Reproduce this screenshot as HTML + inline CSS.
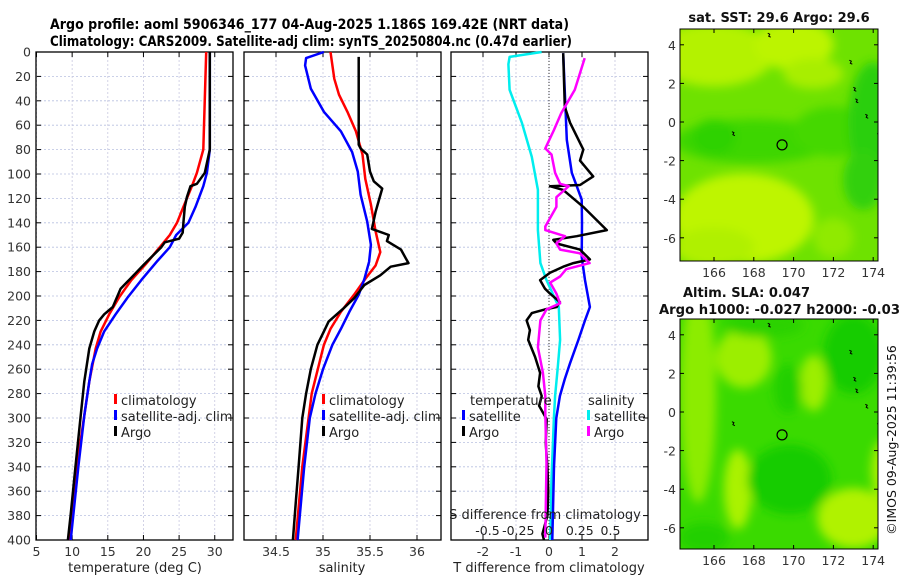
<!DOCTYPE html>
<html><head><meta charset="utf-8"><style>
html,body{margin:0;padding:0;background:#fff;}
svg{display:block;font-family:"DejaVu Sans","Liberation Sans",sans-serif;}
</style></head><body>
<svg id="fig" width="900" height="580" viewBox="0 0 900 580" xmlns="http://www.w3.org/2000/svg">
<defs>
<filter id="blur" x="-20%" y="-20%" width="140%" height="140%"><feGaussianBlur stdDeviation="5"/></filter>
<clipPath id="clipA"><rect x="680" y="29" width="198" height="232"/></clipPath>
<clipPath id="clipB"><rect x="680" y="319" width="198" height="230"/></clipPath>
</defs>
<text x="50" y="29" font-size="14.5" font-weight="bold" textLength="519" lengthAdjust="spacingAndGlyphs">Argo profile: aoml 5906346_177 04-Aug-2025 1.186S 169.42E (NRT data)</text>
<text x="50" y="46" font-size="14.5" font-weight="bold" textLength="522" lengthAdjust="spacingAndGlyphs">Climatology: CARS2009. Satellite-adj clim: synTS_20250804.nc (0.47d earlier)</text>
<g id="plots"></g>
<g id="maps"></g>
</svg>
<script>
// ---- depth levels & profiles ----
const tempDepth = [0,80,99,108,110,119,127,140,148,153,156,160,174,185,194,209,215,220,229,243,270,298,338,379,400];
const tempArgo  = [29.3,29.3,28.6,27.5,26.6,26.1,25.8,25.6,25.5,25.0,23.0,22.5,20.1,18.3,16.8,15.7,14.5,13.8,13.1,12.4,11.7,11.2,10.5,9.8,9.4];
const climDepth = [0,80,99,110,127,140,150,160,174,187,201,215,229,243,270,298,338,400];
const tempClim  = [28.8,28.4,27.5,26.8,25.6,24.7,23.7,22.3,20.3,18.3,16.6,15.2,14.0,13.3,12.4,11.7,10.7,9.5];
const satDepth  = [0,80,99,110,127,140,150,160,171,187,201,215,229,243,256,270,298,338,400];
const tempSat   = [29.3,29.3,28.9,28.4,27.3,26.3,24.6,23.7,22.0,19.7,17.8,16.1,14.5,13.5,12.8,12.4,11.7,10.9,9.8];

const salArgoDepth = [4,76,79,84,98,106,112,120,131,145,150,155,162,169,173,176,183,191,202,210,221,229,240,260,280,300,340,370,400];
const salArgo = [35.38,35.38,35.40,35.47,35.50,35.54,35.63,35.60,35.56,35.52,35.70,35.68,35.83,35.88,35.91,35.72,35.61,35.44,35.33,35.22,35.06,35.01,34.94,34.87,34.82,34.78,34.74,34.71,34.68];
const salClimDepth = [0,22,35,49,65,84,104,125,147,164,175,186,199,213,227,240,280,340,400];
const salClim = [35.08,35.12,35.17,35.26,35.35,35.42,35.45,35.51,35.56,35.61,35.56,35.45,35.33,35.19,35.08,35.01,34.88,34.78,34.71];
const salSatDepth = [0,5,11,30,49,65,82,98,117,139,158,172,186,199,213,227,240,260,280,300,340,400];
const salSat = [35.01,34.82,34.81,34.87,35.01,35.19,35.31,35.37,35.40,35.47,35.51,35.49,35.44,35.38,35.28,35.19,35.10,35.0,34.92,34.86,34.80,34.73];

const dTSatDepth = [1,72,99,121,140,168,187,209,220,236,255,268,282,300,340,400];
const dTSat = [0.43,0.54,0.69,0.99,1.0,0.99,1.09,1.24,1.09,0.89,0.64,0.48,0.33,0.22,0.15,0.1];
const dTArgoDepth = [1,45,58,80,89,102,109,110,113,127,146,151,154,157,162,170,173,176,181,187,194,198,205,209,211,214,220,228,236,250,263,274,282,290,301,320,340,360,380,395,400];
const dTArgo = [0.43,0.48,0.64,1.04,0.94,1.34,0.94,0.03,0.43,1.04,1.75,0.84,0.13,0.23,0.94,1.24,0.74,0.43,0.03,-0.27,-0.12,0.03,0.33,0.23,-0.12,-0.52,-0.68,-0.58,-0.63,-0.42,-0.27,-0.32,-0.22,-0.3,-0.07,-0.1,-0.05,-0.02,-0.05,-0.2,-0.15];
const dSSatDepth = [0,4,10,31,58,86,113,146,173,187,209,236,260,282,300,350,400];
const dSSat = [-0.06,-0.32,-0.33,-0.32,-0.22,-0.14,-0.09,-0.09,-0.07,-0.02,0.08,0.09,0.07,0.05,0.04,0.02,0.01];
const dSArgoDepth = [5,31,50,64,79,84,99,108,110,119,127,143,146,151,157,162,165,173,178,184,189,198,206,211,220,242,263,282,296,337,398];
const dSArgo = [0.29,0.21,0.10,0.04,-0.03,0.02,0.05,0.09,0.16,0.06,0.06,-0.03,-0.03,0.13,0.06,0.09,0.25,0.33,0.14,0.09,0.01,0.06,0.09,-0.02,-0.07,-0.09,-0.05,-0.03,-0.03,-0.02,-0.03];

const depthTicks = [0,20,40,60,80,100,120,140,160,180,200,220,240,260,280,300,320,340,360,380,400];
const tempTicks = [5,10,15,20,25,30];
const salTicks = [34.5,35,35.5,36];
const salTickLabels = ["34.5","35","35.5","36"];
const dTTicks = [-2,-1,0,1,2];
const dSTicks = [-0.5,-0.25,0,0.25,0.5];
const dSTickLabels = ["-0.5","-0.25","0","0.25","0.5"];
const latTicks = [4,2,0,-2,-4,-6];
const lonTicks = [166,168,170,172,174];

const NS='http://www.w3.org/2000/svg';
function mk(parent,tag,attrs){const e=document.createElementNS(NS,tag);for(const k in attrs)e.setAttribute(k,attrs[k]);parent.appendChild(e);return e;}
const plots=document.getElementById('plots');
const Y0=52,Y1=540;
const yD=d=>Y0+(Y1-Y0)*d/400;
const panels=[
 {x0:36,x1:233,name:'temperature-panel',xs:v=>36.5+7.13*(v-5)},
 {x0:244,x1:441,name:'salinity-panel',xs:v=>276+94*(v-34.5)},
 {x0:451,x1:648,name:'difference-panel',xs:v=>549+33*v}
];
const xS=v=>549+123*v;

panels.forEach((p,pi)=>{
  const g=mk(plots,'g',{});
  
  
  depthTicks.forEach(d=>{
    const l=mk(g,'line',{x1:p.x0,x2:p.x1,y1:yD(d),y2:yD(d),stroke:'#b8c0e0','stroke-width':0.8,'stroke-dasharray':'2,2'});
    
    
    mk(g,'line',{x1:p.x0,x2:p.x0+5,y1:yD(d),y2:yD(d),stroke:'#000','stroke-width':1});
    mk(g,'line',{x1:p.x1-5,x2:p.x1,y1:yD(d),y2:yD(d),stroke:'#000','stroke-width':1});
  });
  const ticks= pi===0?tempTicks:(pi===1?salTicks:dTTicks);
  ticks.forEach((t,i)=>{
    const x=p.xs(t);
    mk(g,'line',{x1:x,x2:x,y1:Y0,y2:Y1,stroke:'#c8c8e0','stroke-width':0.8,'stroke-dasharray':'2,2'});
    mk(g,'line',{x1:x,x2:x,y1:Y1-5,y2:Y1,stroke:'#000'});
    mk(g,'line',{x1:x,x2:x,y1:Y0,y2:Y0+5,stroke:'#000'});
    const tx=mk(g,'text',{x:x,y:556,'text-anchor':'middle','font-size':12.5,fill:'#333'});
    tx.textContent= pi===1?salTickLabels[i]:String(t);
    
    
  });
  if(pi===0){
    depthTicks.forEach(d=>{
      const t=mk(g,'text',{x:31,y:yD(d)+4.5,'text-anchor':'end','font-size':12.5,fill:'#333'});
      t.textContent=String(d);
      
      
    });
  }
  if(pi===2){
    mk(g,'line',{x1:549,x2:549,y1:Y0,y2:Y1,stroke:'#333','stroke-width':1,'stroke-dasharray':'1,2'});
  }
  const fr=mk(g,'rect',{x:p.x0,y:Y0,width:p.x1-p.x0,height:Y1-Y0,fill:'none',stroke:'#000','stroke-width':1.3});
  
  
});

function series(depths,vals,xf,color,name){
  const pts=depths.map((d,i)=>xf(vals[i]).toFixed(1)+','+yD(d).toFixed(1)).join(' ');
  const pl=mk(plots,'polyline',{points:pts,fill:'none',stroke:color,'stroke-width':2.5,'stroke-linejoin':'round'});
  
  
}
const xT=panels[0].xs, xSal=panels[1].xs, xdT=panels[2].xs;
series(climDepth,tempClim,xT,'#ff0000','temp-climatology-line');
series(satDepth,tempSat,xT,'#0000ff','temp-satellite-line');
series(tempDepth,tempArgo,xT,'#000','temp-argo-line');
series(salClimDepth,salClim,xSal,'#ff0000','sal-climatology-line');
series(salSatDepth,salSat,xSal,'#0000ff','sal-satellite-line');
series(salArgoDepth,salArgo,xSal,'#000','sal-argo-line');
series(dSSatDepth,dSSat,xS,'#00eeee','sdiff-satellite-line');
series(dTSatDepth,dTSat,xdT,'#0000ff','tdiff-satellite-line');
series(dTArgoDepth,dTArgo,xdT,'#000','tdiff-argo-line');
series(dSArgoDepth,dSArgo,xS,'#ff00ff','sdiff-argo-line');

function label(x,y,txt,name,opts){const t=mk(plots,'text',Object.assign({x:x,y:y,'font-size':13,fill:'#222'},opts||{}));t.textContent=txt;return t;}
function legendEntry(x,y,color,txt,name){
  const g=mk(plots,'g',{});
  
  
  mk(g,'rect',{x:x,y:y-11,width:3,height:10,fill:color});
  const t=mk(g,'text',{x:x+7,y:y,'font-size':13,fill:'#222'});t.textContent=txt;
}
[[114,'temp'],[322,'sal']].forEach(([lx,n])=>{
  legendEntry(lx,405,'#ff0000','climatology',n+'-legend-climatology');
  legendEntry(lx,421,'#0000ff','satellite-adj. clim',n+'-legend-satellite');
  legendEntry(lx,437,'#000','Argo',n+'-legend-argo');
});
label(470,405,'temperature','legend-temperature-header');
legendEntry(462,421,'#0000ff','satellite','legend-t-satellite');
legendEntry(462,437,'#000','Argo','legend-t-argo');
label(588,405,'salinity','legend-salinity-header');
legendEntry(587,421,'#00eeee','satellite','legend-s-satellite');
legendEntry(587,437,'#ff00ff','Argo','legend-s-argo');
label(545,519,'S difference from climatology','s-diff-axis-title',{'text-anchor':'middle'});
dSTicks.forEach((t,i)=>label(xS(t),535,dSTickLabels[i],'s-diff-tick-label',{'text-anchor':'middle','font-size':12.5}));
label(135,572,'temperature (deg C)','x-axis-title-temperature',{'text-anchor':'middle'});
label(342,572,'salinity','x-axis-title-salinity',{'text-anchor':'middle'});
label(549,572,'T difference from climatology','x-axis-title-tdiff',{'text-anchor':'middle'});

// ---- maps ----
const maps=document.getElementById('maps');
const mapDefs=[
 {y0:29,y1:261,lat0:122,clip:'clipA',name:'sst-map',base:'#6ee200',blobs:[
   ['#b4f200',166,3.5,60,32],['#bcf400',170,4,40,25],['#a8ee00',171,2.5,30,15],
   ['#bef500',167.5,-5,70,45],['#b0f000',166,-6.5,40,20],['#90ea00',172,-6,20,20],
   ['#3ed600',168,-1,80,22],['#44d800',172,-0.5,40,25],['#2ccf10',174,0,25,60],['#30d010',173.5,-3,20,30],['#2ed200',166,-0.8,22,18]]},
 {y0:319,y1:549,lat0:412,clip:'clipB',name:'sla-map',base:'#3ada00',blobs:[
   ['#8cec00',165.2,1,18,110],['#9cee00',167.5,2.8,28,30],['#9cee00',171,1.5,14,28],
   ['#aaf200',167.2,-4,14,40],['#b0f200',173,-5.5,36,30],['#a8f000',174.5,-3,12,30],
   ['#16cc00',173,3,30,40],['#16cc00',169.8,-3.5,42,35],['#22d000',169.7,1.2,14,25],['#22d000',165.5,-6.5,25,15],['#2ad200',168.5,4.5,40,12]]}
];
mapDefs.forEach((m,mi)=>{
  const g=mk(maps,'g',{});
  
  
  const lon=l=>714+19.9*(l-166), lat=a=>m.lat0-19.3*a;
  const inner=mk(g,'g',{'clip-path':'url(#'+m.clip+')'});
  mk(inner,'rect',{x:680,y:m.y0,width:198,height:m.y1-m.y0,fill:m.base});
  const bl=mk(inner,'g',{filter:'url(#blur)'});
  m.blobs.forEach(b=>mk(bl,'ellipse',{cx:lon(b[1]),cy:lat(b[2]),rx:b[3],ry:b[4],fill:b[0]}));
  [[172.8,3.2],[173,1.8],[173.1,1.2],[173.6,0.4],[174.2,-0.6],[166.9,-0.5],[168.7,4.6]].forEach(p=>{
    mk(inner,'path',{d:'M'+lon(p[0])+' '+lat(p[1])+' l2 1 l-1 2 l2 1',stroke:'#000','stroke-width':1,fill:'none'});
  });
  const c=mk(g,'circle',{cx:lon(169.42),cy:lat(-1.186),r:5,fill:'none',stroke:'#000','stroke-width':1.2});
  
  
  mk(g,'rect',{x:680,y:m.y0,width:198,height:m.y1-m.y0,fill:'none',stroke:'#000','stroke-width':1});
  latTicks.forEach(a=>{
    mk(g,'line',{x1:680,x2:684,y1:lat(a),y2:lat(a),stroke:'#000'});
    mk(g,'line',{x1:874,x2:878,y1:lat(a),y2:lat(a),stroke:'#000'});
    const t=mk(g,'text',{x:676,y:lat(a)+5,'text-anchor':'end','font-size':12.5,fill:'#333'});t.textContent=String(a);
    
    
  });
  lonTicks.forEach(l=>{
    mk(g,'line',{x1:lon(l),x2:lon(l),y1:m.y1-4,y2:m.y1,stroke:'#000'});
    mk(g,'line',{x1:lon(l),x2:lon(l),y1:m.y0,y2:m.y0+4,stroke:'#000'});
    const t=mk(g,'text',{x:lon(l),y:m.y1+16,'text-anchor':'middle','font-size':12.5,fill:'#333'});t.textContent=String(l);
    
    
  });
});
function mtext(x,y,txt,name,opts){const t=mk(maps,'text',Object.assign({x:x,y:y,'font-size':13,'font-weight':'bold',fill:'#111'},opts||{}));t.textContent=txt;}
mtext(779,22,'sat. SST: 29.6 Argo: 29.6','sst-map-title',{'text-anchor':'middle'});
mtext(683,297,'Altim. SLA: 0.047','sla-map-title');
mtext(659,314,'Argo h1000: -0.027 h2000: -0.03','argo-height-title',{textLength:241,lengthAdjust:'spacingAndGlyphs'});
mtext(896,440,'©IMOS 09-Aug-2025 11:39:56','imos-timestamp',{'text-anchor':'middle','font-weight':'normal','font-size':12.5,transform:'rotate(-90 896 440)'});
</script>
</body></html>
